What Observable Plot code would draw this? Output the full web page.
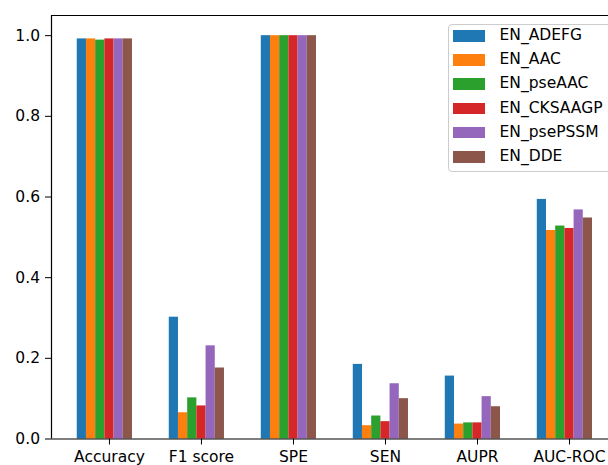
<!DOCTYPE html>
<html>
<head>
<meta charset="utf-8">
<script src="https://cdn.jsdelivr.net/npm/d3@7"></script>
<script src="https://cdn.jsdelivr.net/npm/@observablehq/plot@0.6"></script>
<style>
  html, body { margin: 0; padding: 0; background: #fff; }
  #wrap { position: relative; width: 608px; height: 465px; overflow: hidden; font-family: "DejaVu Sans", sans-serif; }
  #wrap svg { display: block; }
  .lgbox { position: absolute; left: 448px; top: 24px; width: 200px; height: 148px; border: 1px solid #cccccc; border-radius: 4px; background: rgba(255,255,255,0.8); box-sizing: border-box; }
  .lgrow { position: absolute; left: 453px; height: 24.2px; display: flex; align-items: center; white-space: nowrap; }
  .lgpatch { width: 32.4px; height: 11.7px; }
  .lgtext { margin-left: 14.2px; font-size: 15.5px; line-height: 1; color: #000; }
</style>
</head>
<body>
<div id="wrap"></div>
<script>
const categories = ["Accuracy", "F1 score", "SPE", "SEN", "AUPR", "AUC-ROC"];
const seriesNames = ["EN_ADEFG", "EN_AAC", "EN_pseAAC", "EN_CKSAAGP", "EN_psePSSM", "EN_DDE"];
const EN_ADEFG   = [0.992, 0.302, 1.0, 0.185, 0.156, 0.594];
const EN_AAC     = [0.992, 0.065, 1.0, 0.033, 0.037, 0.517];
const EN_pseAAC  = [0.989, 0.102, 1.0, 0.057, 0.040, 0.528];
const EN_CKSAAGP = [0.992, 0.082, 1.0, 0.043, 0.040, 0.522];
const EN_psePSSM = [0.992, 0.231, 1.0, 0.137, 0.105, 0.568];
const EN_DDE     = [0.992, 0.176, 1.0, 0.100, 0.080, 0.548];
const colors = ["#1f77b4", "#ff7f0e", "#2ca02c", "#d62728", "#9467bd", "#8c564b"];
const yTicks = [0, 0.2, 0.4, 0.6, 0.8, 1.0];

const seriesValues = [EN_ADEFG, EN_AAC, EN_pseAAC, EN_CKSAAGP, EN_psePSSM, EN_DDE];
const rows = [];
seriesValues.forEach((vals, s) => {
  vals.forEach((v, c) => rows.push({c, s, series: seriesNames[s], value: v}));
});

const barW = 0.1;
const xMin = -0.63, xMax = 5.424, yMax = 1.05;

const chart = Plot.plot({
  width: 608,
  height: 465,
  marginLeft: 51,
  marginRight: 0,
  marginTop: 15,
  marginBottom: 26.5,
  style: {fontFamily: "DejaVu Sans, sans-serif", fontSize: "15.5px", color: "#000", background: "#fff"},
  x: {
    type: "linear",
    domain: [xMin, xMax],
    ticks: categories.map((_, i) => i),
    tickFormat: i => categories[i],
    tickSize: 6,
    tickPadding: 6,
    label: null
  },
  y: {
    domain: [0, yMax],
    ticks: yTicks,
    tickFormat: d3.format(".1f"),
    tickSize: 6,
    tickPadding: 5.5,
    label: null
  },
  color: {domain: seriesNames, range: colors},
  marks: [
    Plot.rectY(rows, {
      x1: d => d.c + (d.s - 3) * barW - barW / 2,
      x2: d => d.c + (d.s - 3) * barW + barW / 2,
      y1: 0,
      y2: "value",
      fill: "series",
      inset: 0
    }),
    Plot.ruleX([xMin], {stroke: "#000", strokeWidth: 1.2}),
    Plot.ruleY([0], {stroke: "#000", strokeWidth: 1.2}),
    Plot.ruleY([yMax], {stroke: "#000", strokeWidth: 1.2})
  ]
});

const wrap = document.getElementById("wrap");
wrap.appendChild(chart);

const box = document.createElement("div");
box.className = "lgbox";
wrap.appendChild(box);
seriesNames.forEach((name, i) => {
  const row = document.createElement("div");
  row.className = "lgrow";
  row.style.top = (23.75 + 24.2 * i) + "px";
  const patch = document.createElement("div");
  patch.className = "lgpatch";
  patch.style.background = colors[i];
  const txt = document.createElement("span");
  txt.className = "lgtext";
  txt.textContent = name;
  row.appendChild(patch);
  row.appendChild(txt);
  wrap.appendChild(row);
});
</script>
</body>
</html>
